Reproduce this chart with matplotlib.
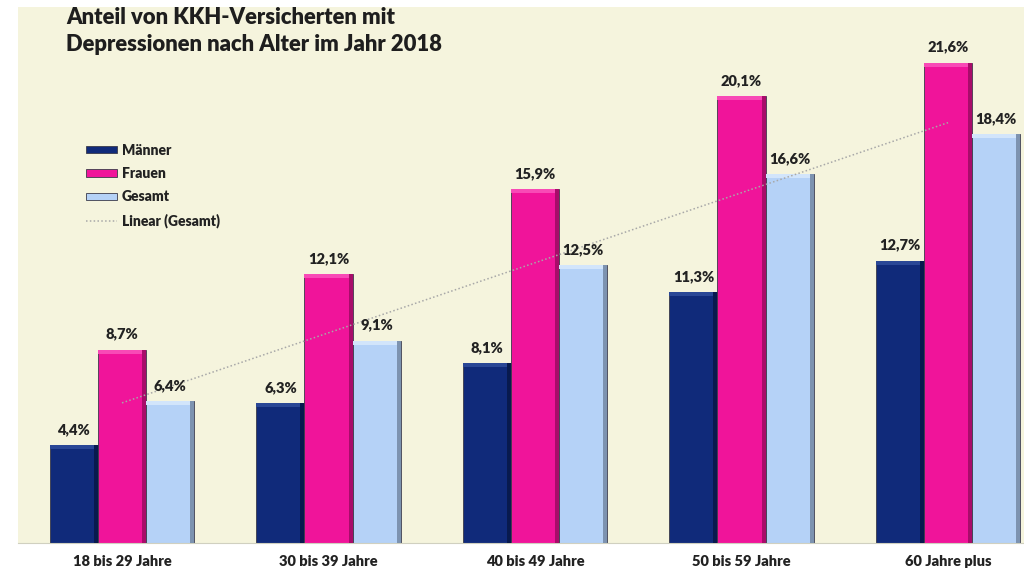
import numpy as np
import matplotlib.pyplot as plt
from matplotlib.patches import Rectangle

plt.rcParams['font.family'] = ['Lato', 'DejaVu Sans']

# data
groups = ['18 bis 29 Jahre', '30 bis 39 Jahre', '40 bis 49 Jahre', '50 bis 59 Jahre', '60 Jahre plus']
maenner = [4.4, 6.3, 8.1, 11.3, 12.7]
frauen = [8.7, 12.1, 15.9, 20.1, 21.6]
gesamt = [6.4, 9.1, 12.5, 16.6, 18.4]
series_names = ['Männer', 'Frauen', 'Gesamt']
title = 'Anteil von KKH-Versicherten mit\nDepressionen nach Alter im Jahr 2018'

colors = ['#102a7a', '#f0149a', '#b5d2f7']
tops = ['#2a4796', '#f84ab6', '#d2e5fb']
sides = ['#081a4e', '#a80c6a', '#7d93b0']

fig = plt.figure(figsize=(10.24, 5.73), dpi=100)
fig.patch.set_facecolor('white')
ax = fig.add_axes([18/1024, 30/573, 1 - 18/1024, (543-7)/573])
ax.set_facecolor('#f5f4dd')

step = 206.5
x = np.arange(len(groups))
w = 0.233
bar_h = 24.1 / 536  # data units per pixel (y)
bar_w = 1 / step    # data units per pixel (x)

for k, vals in enumerate([maenner, frauen, gesamt]):
    xs = x + (k - 1) * w
    ax.bar(xs, vals, w, color=colors[k], edgecolor='#3a3a4a', linewidth=0.6,
           label=series_names[k], zorder=2)
    for xi, v in zip(xs, vals):
        # bevel: top highlight and right shadow
        ax.add_patch(Rectangle((xi - w/2, v - 4*bar_h), w, 4*bar_h,
                               facecolor=tops[k], edgecolor='none', zorder=3))
        ax.add_patch(Rectangle((xi + w/2 - 4*bar_w, 0), 4*bar_w, v,
                               facecolor=sides[k], edgecolor='none', zorder=3))
        ax.text(xi, v + 0.4, f'{v:.1f}%'.replace('.', ','), ha='center', va='bottom',
                fontsize=10.5, fontweight='heavy', color='#222222', zorder=5)

# linear trend of Gesamt
coef = np.polyfit(x, gesamt, 1)
ax.plot(x, np.polyval(coef, x), linestyle=(0, (1, 1.5)), color='#a8a8a8',
        linewidth=1.1, label='Linear (Gesamt)', zorder=4)

ax.set_xlim((18 - 122) / step, (1024 - 122) / step)
ax.set_ylim(0, 24.1)
ax.set_yticks([])
ax.set_xticks(x)
ax.set_xticklabels(groups, fontsize=10.5, fontweight='heavy', color='#222222')
ax.tick_params(axis='x', length=0, pad=9)
for s in ['top', 'right', 'left']:
    ax.spines[s].set_visible(False)
ax.spines['bottom'].set_color('#d0d0c0')
ax.spines['bottom'].set_linewidth(0.8)

fig.text(66/1024, 1 - 7/573, title, ha='left', va='top', fontsize=15.8,
         fontweight='heavy', color='#1e1e1e', linespacing=1.35)

handles, labels = ax.get_legend_handles_labels()
order = [1, 2, 3, 0]
leg = ax.legend([handles[i] for i in order], [labels[i] for i in order],
                loc='upper left', bbox_to_anchor=(55/1006, 1 - 124/536), frameon=False,
                handlelength=2.3, handleheight=0.45, handletextpad=0.3, labelspacing=0.75,
                prop={'weight': 'heavy', 'size': 10})
for t in leg.get_texts():
    t.set_color('#222222')

fig.savefig('out.png', dpi=100, facecolor=fig.get_facecolor())
